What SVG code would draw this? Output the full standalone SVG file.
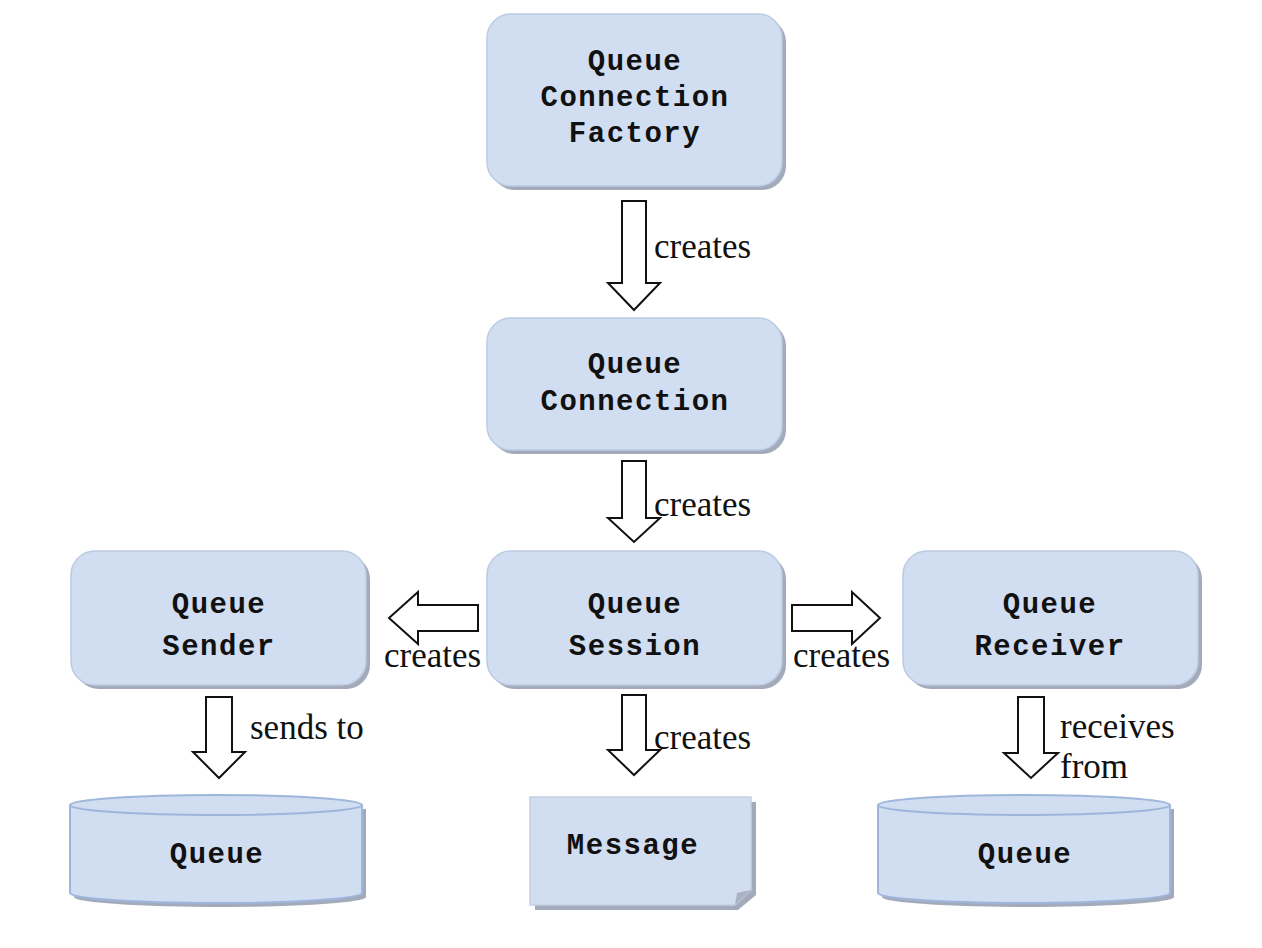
<svg xmlns="http://www.w3.org/2000/svg" width="1262" height="948" viewBox="0 0 1262 948">
<style>
.box{fill:#d1ddf0;stroke:#bccbe2;stroke-width:1.5}
.sh{fill:#a3abba}
.lbl{font-family:"Liberation Mono","Courier New",monospace;font-weight:bold;font-size:29px;letter-spacing:1.5px;fill:#111;text-anchor:middle}
.cap{font-family:"Liberation Serif","Times New Roman",serif;font-size:35px;fill:#111}
.arr{fill:#fff;stroke:#111;stroke-width:2;stroke-linejoin:miter}
.cyl{fill:#d1ddf0;stroke:#9fb6dc;stroke-width:2}
</style>
<rect width="1262" height="948" fill="#fff"/>
<g id="factory">
<rect class="sh" x="491" y="18" width="295" height="172" rx="24"/>
<rect class="box" x="487" y="14" width="295" height="172" rx="24"/>
<text class="lbl" x="635" y="70">Queue</text>
<text class="lbl" x="635" y="106">Connection</text>
<text class="lbl" x="635" y="142">Factory</text>
</g>
<g id="connection">
<rect class="sh" x="491" y="322" width="295" height="132" rx="24"/>
<rect class="box" x="487" y="318" width="295" height="132" rx="24"/>
<text class="lbl" x="635" y="373">Queue</text>
<text class="lbl" x="635" y="410">Connection</text>
</g>
<g id="sender">
<rect class="sh" x="75" y="555" width="295" height="134" rx="24"/>
<rect class="box" x="71" y="551" width="295" height="134" rx="24"/>
<text class="lbl" x="219" y="613">Queue</text>
<text class="lbl" x="219" y="655">Sender</text>
</g>
<g id="session">
<rect class="sh" x="491" y="555" width="295" height="134" rx="24"/>
<rect class="box" x="487" y="551" width="295" height="134" rx="24"/>
<text class="lbl" x="635" y="613">Queue</text>
<text class="lbl" x="635" y="655">Session</text>
</g>
<g id="receiver">
<rect class="sh" x="907" y="555" width="295" height="134" rx="24"/>
<rect class="box" x="903" y="551" width="295" height="134" rx="24"/>
<text class="lbl" x="1050" y="613">Queue</text>
<text class="lbl" x="1050" y="655">Receiver</text>
</g>
<g id="queue-left">
<path class="sh" d="M74,809 V897 A146,10 0 0 0 366,897 V809 Z"/>
<path class="cyl" d="M70,805 V893 A146,10 0 0 0 362,893 V805"/>
<ellipse class="cyl" cx="216" cy="805" rx="146" ry="10"/>
<text class="lbl" x="217" y="863">Queue</text>
</g>
<g id="queue-right">
<path class="sh" d="M882,809 V897 A146,10 0 0 0 1174,897 V809 Z"/>
<path class="cyl" d="M878,805 V893 A146,10 0 0 0 1170,893 V805"/>
<ellipse class="cyl" cx="1024" cy="805" rx="146" ry="10"/>
<text class="lbl" x="1025" y="863">Queue</text>
</g>
<g id="message">
<path class="sh" d="M535,802 H756 V895 L738,910 H535 Z"/>
<path d="M530,797 H751 V890 L735,905 H530 Z" fill="#d1ddf0" stroke="#c3cfe4" stroke-width="1.5"/>
<path d="M735,905 L737,893 L751,890" fill="#a9b2c2"/>
<text class="lbl" x="633" y="854">Message</text>
</g>
<g id="connectors">
<path class="arr" d="M622,201 H646 V283 H660 L634,310 L608,283 H622 Z"/>
<text class="cap" x="654" y="258">creates</text>
<path class="arr" d="M622,461 H646 V518 H660 L634,542 L608,518 H622 Z"/>
<text class="cap" x="654" y="516">creates</text>
<path class="arr" d="M478,605 H418 V592 L389,618 L418,644 V631 H478 Z"/>
<text class="cap" x="384" y="667">creates</text>
<path class="arr" d="M792,605 H852 V592 L880,618 L852,644 V631 H792 Z"/>
<text class="cap" x="793" y="667">creates</text>
<path class="arr" d="M206,697 H232 V752 H245 L219,778 L193,752 H206 Z"/>
<text class="cap" x="250" y="739">sends to</text>
<path class="arr" d="M622,695 H646 V750 H660 L634,775 L608,750 H622 Z"/>
<text class="cap" x="654" y="749">creates</text>
<path class="arr" d="M1018,697 H1044 V753 H1058 L1031,778 L1004,753 H1018 Z"/>
<text class="cap" x="1060" y="738">receives</text>
<text class="cap" x="1060" y="778">from</text>
</g>
</svg>
